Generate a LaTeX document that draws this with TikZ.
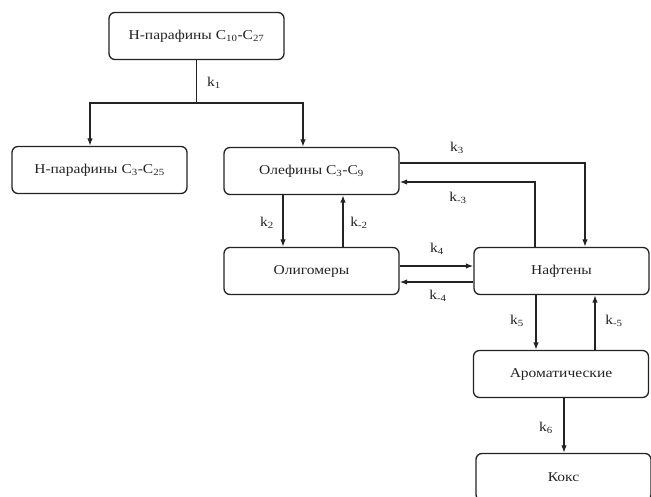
\documentclass[tikz,border=0pt]{standalone}
\usepackage{fontspec}
\setmainfont{Liberation Serif}[FakeStretch=1.15]
\usepackage{tikz}
\usetikzlibrary{arrows.meta, positioning}
\definecolor{ink}{RGB}{35, 35, 35}

\tikzset{
  stage/.style={draw=ink, line width=1.3pt, rounded corners=6pt, text=ink,
    minimum width=175pt, minimum height=47pt, font=\fontsize{13.5}{16}\selectfont},
  rate/.style={text=ink, font=\fontsize{13.5}{16}\selectfont},
  arr/.style={draw=ink, line width=1.3pt, -{Latex[length=7.5pt, width=5.5pt]}},
  link/.style={draw=ink, line width=1.3pt}
}

\begin{document}
\begin{tikzpicture}[x=1pt, y=-1pt]
  \useasboundingbox (0,0) rectangle (651,497);
  % Stages
  \node[stage] (parH) at (196.5,36) {Н-парафины C\textsubscript{10}-C\textsubscript{27}};
  \node[stage] (parL) at (99.5,170) {Н-парафины C\textsubscript{3}-C\textsubscript{25}};
  \node[stage] (olef) at (311.5,171) {Олефины C\textsubscript{3}-C\textsubscript{9}};
  \node[stage] (olig) at (311.5,271) {Олигомеры};
  \node[stage] (naft) at (561.5,271) {Нафтены};
  \node[stage] (arom) at (561,374) {Ароматические};
  \node[stage] (koks) at (563.5,477) {Кокс};
  % Splitting of the feed
  \coordinate (split) at (196.5,103);
  \draw[link] (parH) -- (split);
  \draw[arr] (split) -| ([xshift=-9.5]parL.north);
  \draw[arr] (split) -| ([xshift=-8.5]olef.north);
  % Olefins <-> oligomers
  \draw[arr] ([xshift=-28.5]olef.south) -- ([xshift=-28.5]olig.north);
  \draw[arr] ([xshift=31.5]olig.north) -- ([xshift=31.5]olef.south);
  % Olefins <-> naphthenes
  \draw[arr] ([yshift=8]olef.east) -| ([xshift=23.5]naft.north);
  \draw[arr] ([xshift=-26.5]naft.north) |- ([yshift=-11]olef.east);
  % Oligomers <-> naphthenes
  \draw[arr] ([yshift=5]olig.east) -- ([yshift=5]naft.west);
  \draw[arr] ([yshift=-11]naft.west) -- ([yshift=-11]olig.east);
  % Naphthenes <-> aromatics -> coke
  \draw[arr] ([xshift=-25.5]naft.south) -- ([xshift=-25.5]naft.south |- arom.north);
  \draw[arr] ([xshift=33.5]naft.south |- arom.north) -- ([xshift=33.5]naft.south);
  \draw[arr] ([xshift=3]arom.south) -- ([xshift=3]arom.south |- koks.north);
  % Rate constants
  \node[rate] (k1) at (214,83) {k\textsubscript{1}};
  \node[rate] (k2) at (267,223) {k\textsubscript{2}};
  \node[rate] (km2) at (359,223) {k\textsubscript{-2}};
  \node[rate] (k3) at (457,148) {k\textsubscript{3}};
  \node[rate] (km3) at (458,198) {k\textsubscript{-3}};
  \node[rate] (k4) at (437,249) {k\textsubscript{4}};
  \node[rate] (km4) at (438,296) {k\textsubscript{-4}};
  \node[rate] (k5) at (517,321) {k\textsubscript{5}};
  \node[rate] (km5) at (614,321) {k\textsubscript{-5}};
  \node[rate] (k6) at (546,428) {k\textsubscript{6}};
\end{tikzpicture}
\end{document}
